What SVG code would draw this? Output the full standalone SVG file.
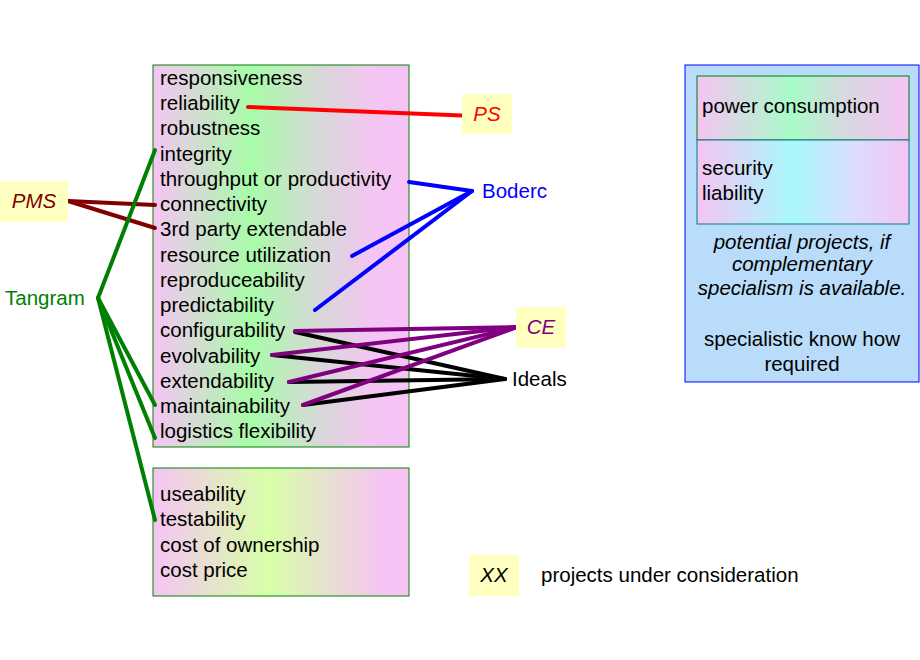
<svg xmlns="http://www.w3.org/2000/svg" width="920" height="660" viewBox="0 0 920 660">
<defs>
<linearGradient id="g1" x1="0" x2="1" y1="0" y2="0"><stop offset="0" stop-color="#f6c4f4"/><stop offset="0.38" stop-color="#a8fca8"/><stop offset="0.65" stop-color="#d8d8d8"/><stop offset="0.88" stop-color="#f6c4f4"/></linearGradient>
<linearGradient id="g2" x1="0" x2="1" y1="0" y2="0"><stop offset="0" stop-color="#f6c4f4"/><stop offset="0.45" stop-color="#d8ffa8"/><stop offset="0.9" stop-color="#f6c4f4"/></linearGradient>
<linearGradient id="g3" x1="0" x2="1" y1="0" y2="0"><stop offset="0" stop-color="#f6c4f4"/><stop offset="0.45" stop-color="#a8fcc8"/><stop offset="0.7" stop-color="#d8d8e0"/><stop offset="1" stop-color="#f6c4f4"/></linearGradient>
<linearGradient id="g4" x1="0" x2="1" y1="0" y2="0"><stop offset="0" stop-color="#f6c4f4"/><stop offset="0.45" stop-color="#a8f8fc"/><stop offset="0.75" stop-color="#dcdcfc"/><stop offset="1" stop-color="#f6c4f4"/></linearGradient>
</defs>
<style>
text{font-family:"Liberation Sans",Arial,sans-serif;font-size:20.5px;fill:#000}
.it{font-style:italic}
.tag{fill:#ffffc0}
line{stroke-width:4;stroke-linecap:round}
</style>
<rect width="920" height="660" fill="#fff"/>
<g id="qualities">
<rect x="153" y="65" width="256" height="382" fill="url(#g1)" stroke="#008000"/>
<text x="160" y="85">responsiveness</text>
<text x="160" y="110">reliability</text>
<text x="160" y="135">robustness</text>
<text x="160" y="161">integrity</text>
<text x="160" y="186">throughput or productivity</text>
<text x="160" y="211">connectivity</text>
<text x="160" y="236">3rd party extendable</text>
<text x="160" y="262">resource utilization</text>
<text x="160" y="287">reproduceability</text>
<text x="160" y="312">predictability</text>
<text x="160" y="337">configurability</text>
<text x="160" y="363">evolvability</text>
<text x="160" y="388">extendability</text>
<text x="160" y="413">maintainability</text>
<text x="160" y="438">logistics flexibility</text>
</g>
<g id="qualities2">
<rect x="153" y="468" width="256" height="128" fill="url(#g2)" stroke="#008000"/>
<text x="160" y="501">useability</text>
<text x="160" y="526">testability</text>
<text x="160" y="552">cost of ownership</text>
<text x="160" y="577">cost price</text>
</g>
<g id="connectors">
<line x1="248" y1="107" x2="475" y2="116" stroke="#ff0000"/>
<line x1="68" y1="201" x2="155" y2="205" stroke="#800000"/>
<line x1="68" y1="201" x2="155" y2="228" stroke="#800000"/>
<line x1="98" y1="298" x2="155" y2="150" stroke="#008000"/>
<line x1="98" y1="298" x2="155" y2="405" stroke="#008000"/>
<line x1="98" y1="298" x2="155" y2="438" stroke="#008000"/>
<line x1="98" y1="298" x2="155" y2="520" stroke="#008000"/>
<line x1="472" y1="191" x2="409" y2="182" stroke="#0000ff"/>
<line x1="472" y1="191" x2="352" y2="256" stroke="#0000ff"/>
<line x1="472" y1="191" x2="315" y2="310" stroke="#0000ff"/>
<line x1="505" y1="379" x2="295" y2="332" stroke="#000"/>
<line x1="505" y1="379" x2="272" y2="355" stroke="#000"/>
<line x1="505" y1="379" x2="289" y2="382" stroke="#000"/>
<line x1="505" y1="379" x2="303" y2="405" stroke="#000"/>
<line x1="517" y1="327" x2="295" y2="331" stroke="#800080"/>
<line x1="517" y1="327" x2="272" y2="355" stroke="#800080"/>
<line x1="517" y1="327" x2="289" y2="382" stroke="#800080"/>
<line x1="517" y1="327" x2="303" y2="405" stroke="#800080"/>
</g>
<g id="PS"><rect class="tag" x="462" y="94" width="50" height="40"/><text class="it" x="487" y="121" text-anchor="middle" style="fill:#ff0000">PS</text></g>
<g id="PMS"><rect class="tag" x="0" y="181" width="68" height="41"/><text class="it" x="34" y="208" text-anchor="middle" style="fill:#800000">PMS</text></g>
<g id="Tangram"><text x="5" y="305" style="fill:#008000">Tangram</text></g>
<g id="Boderc"><text x="482" y="198" style="fill:#0000ff">Boderc</text></g>
<g id="CE"><rect class="tag" x="516" y="307" width="50" height="41"/><text class="it" x="541" y="334" text-anchor="middle" style="fill:#800080">CE</text></g>
<g id="Ideals"><text x="512" y="386">Ideals</text></g>
<g id="legend"><rect class="tag" x="469" y="555" width="50" height="41"/><text class="it" x="494" y="582" text-anchor="middle">XX</text><text x="541" y="582">projects under consideration</text></g>
<g id="potential">
<rect x="685" y="65" width="234" height="317" fill="#b9dcfa" stroke="#0000ff"/>
<rect x="697" y="76" width="212" height="64" fill="url(#g3)" stroke="#008000"/>
<rect x="697" y="140" width="212" height="84" fill="url(#g4)" stroke="#008080"/>
<text x="702" y="113">power consumption</text>
<text x="702" y="175">security</text>
<text x="702" y="200">liability</text>
<text class="it" x="802" y="249" text-anchor="middle">potential projects, if</text>
<text class="it" x="802" y="271" text-anchor="middle">complementary</text>
<text class="it" x="802" y="295" text-anchor="middle">specialism is available.</text>
<text x="802" y="346" text-anchor="middle">specialistic know how</text>
<text x="802" y="371" text-anchor="middle">required</text>
</g>
</svg>
